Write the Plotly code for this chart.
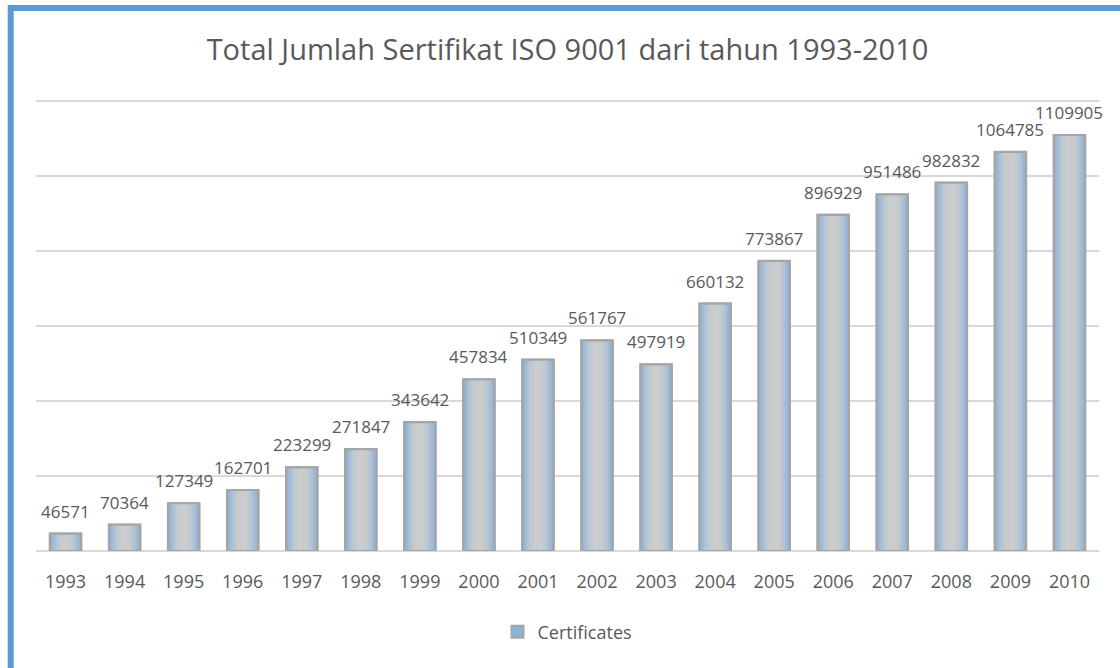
import plotly.graph_objects as go

years = ["1993", "1994", "1995", "1996", "1997", "1998", "1999", "2000", "2001",
         "2002", "2003", "2004", "2005", "2006", "2007", "2008", "2009", "2010"]
certificates = [46571, 70364, 127349, 162701, 223299, 271847, 343642, 457834, 510349,
                561767, 497919, 660132, 773867, 896929, 951486, 982832, 1064785, 1109905]

title_text = "Total Jumlah Sertifikat ISO 9001 dari tahun 1993-2010"
series_name = "Certificates"

FONT = "Open Sans"
TXT = "#595959"

fig = go.Figure()

# layered bars to imitate the blue-to-gray gradient fill
outer_w = 0.53
layers = [
    (0.53, "#8db2db"),
    (0.48, "#97b7d9"),
    (0.43, "#a1bbd7"),
    (0.38, "#abc0d5"),
    (0.33, "#b4c4d3"),
    (0.28, "#bcc7d1"),
    (0.23, "#c3cacf"),
    (0.17, "#c8cbce"),
    (0.11, "#cbcccd"),
]
for i, (w, c) in enumerate(layers):
    fig.add_trace(go.Bar(
        x=years, y=certificates, width=w, name=series_name,
        marker=dict(color=c, line=dict(width=2, color="#a5a5a5") if i == 0 else dict(width=0)),
        showlegend=(i == 0), hoverinfo="skip",
    ))
# border on top
fig.add_trace(go.Bar(
    x=years, y=certificates, width=outer_w, name=series_name,
    marker=dict(color="rgba(0,0,0,0)", line=dict(width=2.2, color="#a5a5a5")),
    showlegend=False,
))

# data labels (x given as category index on the category axis)
for idx, v in enumerate(certificates):
    fig.add_annotation(x=idx, y=v, text=str(v), showarrow=False, yanchor="bottom",
                       yshift=9, font=dict(family=FONT, size=17, color=TXT))

W, H = 1120, 668
L, R, T, B = 36, 21, 99, 117
pw, ph = W - L - R, H - T - B

def px(xp):
    return (xp - L) / pw

def py(yp):
    return (H - B - yp) / ph

fig.add_shape(type="rect", xref="paper", yref="paper",
              x0=px(10.7), x1=px(1130), y0=py(8), y1=py(690),
              line=dict(color="#5b9bd5", width=6), fillcolor="rgba(0,0,0,0)", layer="above")

fig.update_layout(
    width=W, height=H,
    margin=dict(l=L, r=R, t=T, b=B, autoexpand=False),
    paper_bgcolor="white", plot_bgcolor="white",
    barmode="overlay", bargap=0.47,
    title=dict(text=title_text, x=0.5, xanchor="center", y=1 - 50 / H, yanchor="middle",
               xref="paper", yref="container",
               font=dict(family=FONT, size=29, color=TXT)),
    xaxis=dict(type="category", showgrid=False, showline=False, ticks="",
               range=[-0.5, len(years) - 0.5], autorange=False,
               ticklabelstandoff=18,
               tickfont=dict(family=FONT, size=18, color=TXT)),
    yaxis=dict(range=[0, 1206000], autorange=False,
               tickvals=[200000, 400000, 600000, 800000, 1000000, 1200000],
               showticklabels=False,
               gridcolor="#d9d9d9", gridwidth=1.5, zeroline=True, zerolinecolor="#d9d9d9",
               zerolinewidth=2, showline=False, ticks=""),
    legend=dict(orientation="h", x=0.5, xanchor="center", y=py(632), yanchor="middle",
                itemwidth=30,
                font=dict(family=FONT, size=18, color=TXT)),
)

fig.write_html("out.html", config={"displayModeBar": False},
               post_script="document.body.style.margin='0';document.body.style.overflow='hidden';")
